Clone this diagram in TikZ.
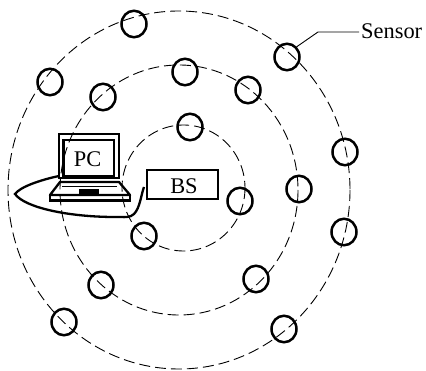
\documentclass[tikz,border=0pt]{standalone}
\usepackage{fontspec}
\usetikzlibrary{shapes.geometric}
\setmainfont{Liberation Serif}
\begin{document}
\begin{tikzpicture}[x=1pt,y=-1pt,
  ring/.style={draw,dash pattern=on 11pt off 5pt,line width=0.9pt},
  sensor/.style={ellipse,draw,line width=2.5pt,minimum width=25pt,minimum height=26.5pt,inner sep=0pt},
  heavy/.style={draw,line width=2.3pt},
  caption/.style={font=\fontsize{22.4}{24}\selectfont,inner sep=0pt}]
\useasboundingbox (0,0) rectangle (426,371);
\draw[ring] (179,190) ellipse [x radius=171,y radius=179];
\draw[ring] (179,190) ellipse [x radius=119,y radius=125];
\draw[ring] (183.5,188) ellipse [x radius=61.5,y radius=63];
\foreach \n/\x/\y in {a/134/24,b/287/57,c/50/82,d/103/97,e/185/72,f/248/90,g/190/127,h/345/152,i/299/189,j/344/232,k/240/201,l/144/236,m/256/279,n/101/285,o/64/322,p/284/329}
  \node[sensor] (\n) at (\x,\y) {};
% laptop
\draw[heavy] (59,134) rectangle (119,178);
\draw[heavy] (63.5,140) rectangle (114,176);
\node[caption] (pc) at (87.5,159.5) {PC};
\draw[heavy,line join=round] (60,182) -- (119,182) -- (130,195) -- (50,195) -- cycle;
\draw[heavy] (50,195) rectangle (130,200.5);
\draw[line width=0.8pt] (62,186) -- (117,186);
\fill (79,189) rectangle (99,195);
% base station
\node[draw,line width=2.3pt,minimum width=71pt,minimum height=29pt,inner sep=0pt,anchor=north west] (bs) at (146,169) {};
\node[caption] (bst) at (184,186) {BS};
\coordinate (lap) at (59,176);
\coordinate (bsl) at (144,187);
\draw[line width=2.3pt] (lap) .. controls (40,180) and (20,187) .. (15,194)
  .. controls (25,208) and (70,217) .. (115,217)
  .. controls (125,217) and (130,218) .. (134,214)
  .. controls (140,208) and (141,195) .. (bsl);
% sensor label
\node[caption,anchor=west] (s) at (361,31) {Sensor};
\coordinate (bend) at (318,32);
\draw[line width=0.9pt] (s.west |- bend) ++(-2,0) -- (bend) -- (b.north east);
\end{tikzpicture}
\end{document}
